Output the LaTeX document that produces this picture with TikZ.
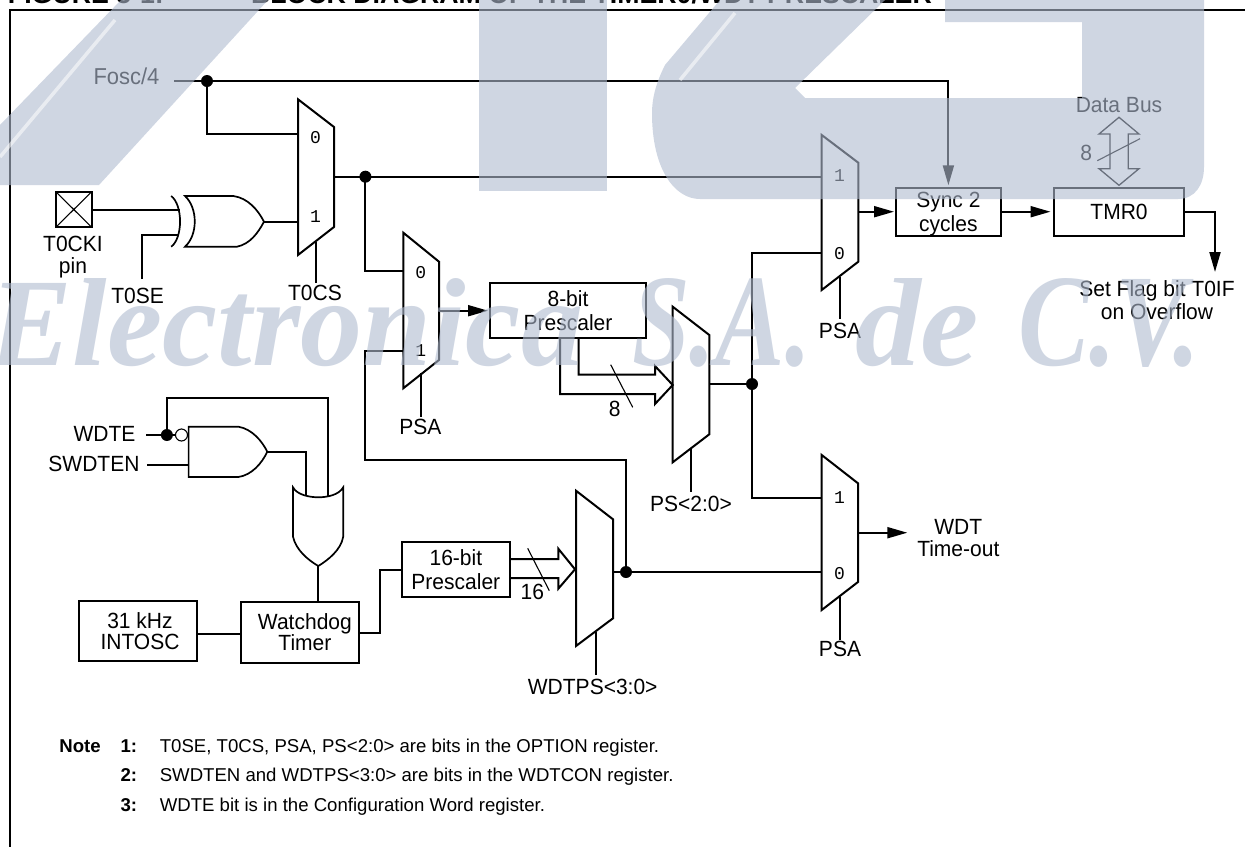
\documentclass[tikz,border=0pt]{standalone}
\usepackage{fontspec}
\setmainfont{Liberation Sans}
\newfontfamily\lblfont[FakeStretch=0.955]{Liberation Sans}
\newfontfamily\digitfont{Liberation Mono}
\newfontfamily\wmfont{Liberation Serif}
\usetikzlibrary{arrows.meta,calc}
\definecolor{wmcol}{RGB}{175,187,208}
\newcommand{\muxshape}[7]{\draw[wire] (#1,#2) -- (#3,#4) -- (#3,#5) -- (#1,#6) -- cycle; \coordinate (#7) at (#1,#2);}
\tikzset{
  wire/.style={line width=2pt,line join=miter},
  gate/.style={line width=1.7pt},
  thinline/.style={line width=1.1pt},
  arrowwire/.style={wire,-{Triangle[length=20pt,width=11pt]}},
  blockbox/.style={draw,line width=2pt,inner sep=0pt,outer sep=0pt,align=center,font=\lblfont\fontsize{22}{24}\selectfont},
  lbl/.style={inner sep=0pt,outer sep=0pt,align=center,font=\lblfont\fontsize{22}{22}\selectfont},
  mdigit/.style={inner sep=0pt,outer sep=0pt,font=\fontsize{18}{20}\digitfont},
  junction/.style={circle,fill=black,inner sep=0pt,outer sep=0pt,minimum size=12pt},
  bubble/.style={circle,draw,line width=1.1pt,fill=white,inner sep=0pt,outer sep=0pt,minimum size=12pt},
  notetxt/.style={anchor=base west,inner sep=0pt,outer sep=0pt,font=\fontsize{18.6}{20}\selectfont},
  notebold/.style={anchor=base west,inner sep=0pt,outer sep=0pt,font=\fontsize{18.6}{20}\selectfont\bfseries},
  titletxt/.style={anchor=base west,inner sep=0pt,outer sep=0pt,font=\fontsize{26.7}{28}\selectfont\bfseries},
  wmshape/.style={fill=wmcol,fill opacity=0.6,draw=none},
  wmstreak/.style={draw=white,draw opacity=0.55,line width=3.5pt},
  wmtext/.style={anchor=base west,inner sep=0pt,outer sep=0pt,text=wmcol,text opacity=0.6,font=\wmfont\bfseries\itshape\fontsize{120}{120}\selectfont},
}
\begin{document}
\begin{tikzpicture}[x=1pt,y=-1pt]
\useasboundingbox (0,0) rectangle (1245,847);
\fill[white] (0,0) rectangle (1245,847);

% title and frame
\node[titletxt] (t1) at (8,3) {FIGURE 5-1:};
\node[titletxt] (t2) at (251,3) {BLOCK DIAGRAM OF THE TIMER0/WDT PRESCALER};
\coordinate (fr1) at (1245,10);
\coordinate (fr2) at (10,10);
\coordinate (fr3) at (10,847);
\draw[line width=2pt] (fr1) -- (fr2) -- (fr3);

% blocks
\node[blockbox,minimum width=36pt,minimum height=35.6pt] (pin) at (73.75,209.5) {};
\draw[thinline] (pin.north west) -- (pin.south east) (pin.north east) -- (pin.south west);
\node[blockbox,minimum width=156pt,minimum height=55pt] (pre8) at (568,310.5) {8-bit\\Prescaler};
\node[blockbox,minimum width=105pt,minimum height=48pt,text depth=0pt] (sync) at (948.4,212) {Sync 2\\cycles};
\node[blockbox,minimum width=130.6pt,minimum height=48pt] (tmr) at (1119,212) {TMR0};
\node[blockbox,minimum width=108.3pt,minimum height=55pt] (pre16) at (455.85,569.5) {16-bit\\Prescaler};
\node[blockbox,minimum width=118.6pt,minimum height=60.3pt,font=\lblfont\fontsize{22}{20.6}\selectfont] (osc) at (138,630.85) {\hspace*{4pt}31 kHz\\\hspace*{4pt}INTOSC};
\node[blockbox,minimum width=117.4pt,minimum height=61pt,font=\lblfont\fontsize{22}{20.6}\selectfont] (wd) at (299.9,632.2) {\hspace*{10pt}Watchdog\\\hspace*{10pt}Timer};

% multiplexers
\muxshape{298}{99.3}{334}{127}{227}{255}{m1}
\muxshape{403.3}{232.7}{439}{261.7}{360}{388.3}{m2}
\muxshape{672.7}{306.7}{709.3}{335}{434.3}{462.3}{m3}
\muxshape{821.7}{135}{858.3}{162.7}{261.7}{290}{m4}
\muxshape{576}{490.7}{613}{519.3}{618.3}{646}{m5}
\muxshape{821.7}{455}{858}{483.3}{582}{610}{m6}

\node[mdigit] (d10) at (315.5,138) {0};
\node[mdigit] (d11) at (315.5,217) {1};
\node[mdigit] (d20) at (420.7,272.3) {0};
\node[mdigit] (d21) at (420.7,350.7) {1};
\node[mdigit] (d41) at (839.4,175.7) {1};
\node[mdigit] (d40) at (839.4,253.3) {0};
\node[mdigit] (d61) at (839.4,497.3) {1};
\node[mdigit] (d60) at (839.4,574) {0};

% ports
\coordinate (fosc0) at (174,81);
\coordinate (m1in0) at (298,133.7);
\coordinate (m1in1) at (298,221.7);
\coordinate (m1out) at (334,176.7);
\coordinate (m1sel) at (316,241.7);
\coordinate (m1selb) at (316,283);
\coordinate (m2in0) at (403.3,271);
\coordinate (m2in1) at (403.3,350.7);
\coordinate (m2out) at (439,310.7);
\coordinate (m2tip) at (488,310.7);
\coordinate (m2sel) at (420.7,373);
\coordinate (m2selb) at (420.7,417.3);
\coordinate (m3out) at (709.3,384);
\coordinate (m3sel) at (690.7,448);
\coordinate (m3selb) at (690.7,491.7);
\coordinate (m4in1) at (821.7,176.7);
\coordinate (m4in0) at (821.7,253);
\coordinate (m4out) at (858.3,211.7);
\coordinate (m4tip) at (894,211.7);
\coordinate (m4sel) at (839.6,276.7);
\coordinate (m4selb) at (839.6,319.3);
\coordinate (m5out) at (613,572);
\coordinate (m5sel) at (596,632);
\coordinate (m5selb) at (596,674.7);
\coordinate (m6in1) at (821.7,497.7);
\coordinate (m6in0) at (821.7,572);
\coordinate (m6out) at (858,532.7);
\coordinate (m6tip) at (907.3,532.7);
\coordinate (m6sel) at (840,596.7);
\coordinate (m6selb) at (840,640);
\coordinate (c1) at (365.4,460);
\coordinate (syncout) at (1001,211.7);
\coordinate (tmrtip) at (1050.5,211.7);
\coordinate (tmrout) at (1184.3,211.7);
\coordinate (flagc) at (1215,211.7);
\coordinate (flagtip) at (1215,272);

% junctions
\node[junction] (j0) at (207,81) {};
\node[junction] (j1) at (365.4,176.7) {};
\node[junction] (j2) at (752,384) {};
\node[junction] (j3) at (626,572) {};
\node[junction] (j4) at (166.9,435) {};
\node[bubble] (bub) at (181.5,435) {};

% wires
\draw[arrowwire,shorten >=2.7pt] (fosc0) -| (sync.north);
\draw[wire] (j0.center) |- (m1in0);
\draw[wire] (m1out) -- (m4in1);
\draw[wire] (j1.center) |- (m2in0);
\draw[wire] (m2in1) -| (c1) -| (j3.center);
\draw[arrowwire] (m2out) -- (m2tip);
\draw[wire] (m1sel) -- (m1selb);
\draw[wire] (m2sel) -- (m2selb);
\draw[wire] (m3sel) -- (m3selb);
\draw[wire] (m4sel) -- (m4selb);
\draw[wire] (m5sel) -- (m5selb);
\draw[wire] (m6sel) -- (m6selb);
\draw[wire] (m3out) -- (j2.center);
\draw[wire] (m4in0) -| (j2.center) |- (m6in1);
\draw[arrowwire] (m4out) -- (m4tip);
\draw[arrowwire] (syncout) -- (tmrtip);
\draw[arrowwire] (tmrout) -- (flagc) -- (flagtip);
\draw[wire] (m5out) -- (m6in0);
\draw[arrowwire] (m6out) -- (m6tip);

% T0CKI XOR
\coordinate (x1) at (180,210);
\coordinate (x2) at (178.7,235);
\coordinate (t0seb) at (142,279);
\coordinate (xout) at (264,221.7);
\draw[wire] (pin.east |- x1) -- (x1);
\draw[wire] (t0seb) |- (x2);
\draw[wire] (xout) -- (m1in1);
\draw[gate] (171.2,196) .. controls (183,205) and (183,238) .. (171.2,246.7);
\draw[gate] (185,196) -- (233.3,196) .. controls (248,198) and (258,210) .. (xout) .. controls (258,233) and (250,244) .. (237,246.7) -- (185,246.7) .. controls (198,235) and (198,208) .. (185,196) -- cycle;

% watchdog gates
\coordinate (g1out) at (267.3,451.7);
\coordinate (g2a) at (306,495);
\coordinate (g2b) at (328.2,496.5);
\coordinate (wdte0) at (146.3,435);
\coordinate (sw0) at (147,465);
\coordinate (sw1) at (188.6,465);
\coordinate (loop) at (166.9,398.3);
\coordinate (g2out) at (318.3,566);
\coordinate (g2outb) at (318.3,601.7);
\draw[wire] (wdte0) -- (bub.west);
\draw[wire] (sw0) -- (sw1);
\draw[wire] (j4.center) |- (loop) -| (g2b);
\draw[wire] (g1out) -| (g2a);
\draw[wire] (g2out) -- (g2outb);
\draw[gate] (188.6,426.7) -- (238.4,426.7) .. controls (252,429) and (262,441) .. (g1out) .. controls (262,463) and (252,475) .. (238.4,477) -- (188.6,477) -- cycle;
\draw[gate] (293,487.3) .. controls (297,495) and (310,497.3) .. (318.3,497.3) .. controls (327,497.3) and (339,495) .. (343.2,487.3) -- (343.2,536.7) .. controls (341,550) and (328,560) .. (g2out) .. controls (308,560) and (296,550) .. (293,536.7) -- cycle;
\draw[wire] (osc.east |- 0,633.7) -- (wd.west |- 0,633.7);
\coordinate (wdr) at (380.4,633);
\draw[wire] (wd.east |- wdr) -- (wdr) |- (pre16.west);

% buses
\coordinate (b8a) at (578.7,338);
\coordinate (b8b) at (560,338);
\draw[wire] (b8a) -- (578.7,374.7) -- (655,374.7) -- (655,366) -- (672.7,385) -- (655,404) -- (655,394) -- (560,394) -- (b8b);
\draw[thinline] (610.7,364.7) -- (632.7,407.3);
\node[lbl] (l8) at (614.7,408.7) {8};
\coordinate (b16a) at (510,559);
\coordinate (b16b) at (510,578);
\draw[wire] (b16a) -- (558.3,559) -- (558.3,548.7) -- (575,569.3) -- (558.3,588.7) -- (558.3,578) -- (b16b);
\draw[thinline] (527.7,548.3) -- (549.3,590.7);
\node[lbl] (l16) at (532.3,591.7) {16};
\draw[line width=1.3pt] (1119,117.3) -- (1139,134) -- (1128.3,134) -- (1128.3,168.7) -- (1139,168.7) -- (1119,185.3) -- (1099,168.7) -- (1110,168.7) -- (1110,134) -- (1099,134) -- cycle;
\draw[thinline] (1097.3,160.7) -- (1140,138.7);
\node[lbl] (ldb8) at (1086.3,152.7) {8};

% labels
\node[lbl,font=\lblfont\fontsize{23}{22}\selectfont] (lf) at (126.5,76.7) {Fosc/4};
\node[lbl] (l1) at (73,256.7) {T0CKI\\pin};
\node[lbl] (l2) at (137.6,296) {T0SE};
\node[lbl] (l3) at (315,293) {T0CS};
\node[lbl] (l4) at (420.3,427.3) {PSA};
\node[lbl] (l5) at (691,504) {PS<2:0>};
\node[lbl] (l6) at (840,331) {PSA};
\node[lbl] (l7) at (840,649.3) {PSA};
\node[lbl] (l9) at (592.7,687.3) {WDTPS<3:0>};
\node[lbl,anchor=east] (l10) at (135.5,434.3) {WDTE};
\node[lbl,anchor=east] (l11) at (139.5,464.3) {SWDTEN};
\node[lbl] (l12) at (1119,105) {Data Bus};
\node[lbl,font=\lblfont\fontsize{22}{23.4}\selectfont] (l13) at (1157,300) {Set Flag bit T0IF\\on Overflow};
\node[lbl,font=\lblfont\fontsize{22}{21.4}\selectfont] (l14) at (958.3,538) {WDT\\Time-out};

% notes
\node[notebold] (n0) at (59.4,752) {Note};
\node[notebold] (n1) at (120.5,752) {1:};
\node[notebold] (n2) at (120.5,781) {2:};
\node[notebold] (n3) at (120.5,811) {3:};
\node[notetxt] (n1t) at (159.8,752) {T0SE, T0CS, PSA, PS<2:0> are bits in the OPTION register.};
\node[notetxt] (n2t) at (159.8,781) {SWDTEN and WDTPS<3:0> are bits in the WDTCON register.};
\node[notetxt] (n3t) at (159.8,811) {WDTE bit is in the Configuration Word register.};

% watermark
\fill[wmshape] (121,0) -- (268,0) -- (99,185) -- (0,185) -- (0,125) -- cycle;
\fill[wmshape] (478.5,0) rectangle (607,191);
\fill[wmshape] (720,0) -- (885,0) -- (795,88) -- (805,98) -- (1082,98) -- (1082,22) -- (945,22) -- (945,0) -- (1204,0) -- (1204,167) .. controls (1204,185) and (1195,199) .. (1178,199) -- (700,199) .. controls (675,199) and (652,170) .. (652,113) .. controls (652,100) and (655,85) .. (665,65) -- cycle;
\draw[wmstreak] (0,157) -- (115,20);
\draw[wmstreak] (680,80) -- (735,13);
\node[wmtext] (w1) at (-10,365) {\resizebox{593pt}{87pt}{Electronica}};
\node[wmtext] (w2) at (632,365) {\resizebox{179pt}{87pt}{S.A.}};
\node[wmtext] (w3) at (855,365) {\resizebox{124pt}{87pt}{de}};
\node[wmtext] (w4) at (1018,365) {\resizebox{182pt}{87pt}{C.V.}};
\end{tikzpicture}
\end{document}
